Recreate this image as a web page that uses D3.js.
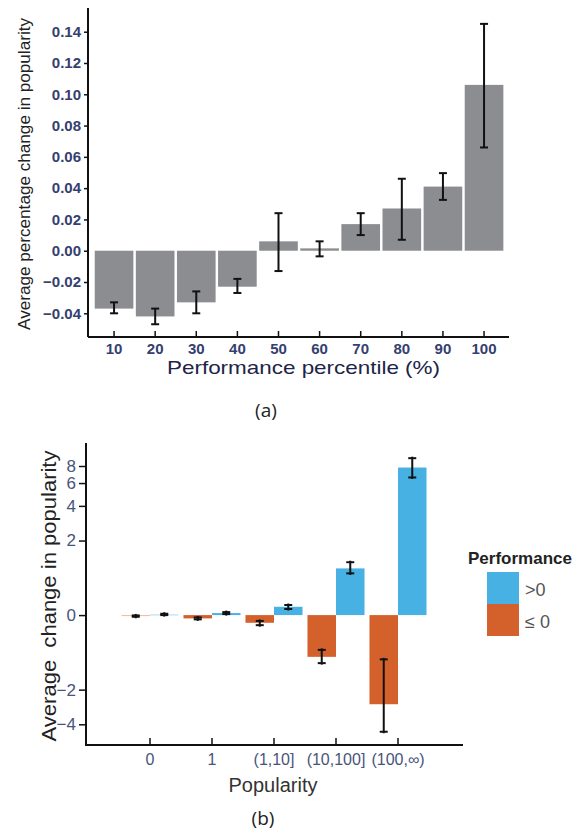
<!DOCTYPE html>
<html>
<head>
<meta charset="utf-8">
<script src="https://cdn.jsdelivr.net/npm/d3@7"></script>
<style>
  body { margin: 0; background: #fff; }
  text { font-family: "Liberation Sans", Arial, sans-serif; }
</style>
</head>
<body>
<div class="canvas"></div>
<script>
// ---------------- data: panel (a) ----------------
const percentiles = ['10', '20', '30', '40', '50', '60', '70', '80', '90', '100'];
const avgChange = [-0.037, -0.042, -0.033, -0.023, 0.006, 0.0015, 0.017, 0.027, 0.041, 0.106];
const errLow  = [-0.040, -0.047, -0.040, -0.027, -0.013, -0.0036, 0.010, 0.007, 0.0325, 0.066];
const errHigh = [-0.033, -0.037, -0.026, -0.018, 0.024, 0.006, 0.024, 0.046, 0.0496, 0.145];
const yTicksA = [-0.04, -0.02, 0.00, 0.02, 0.04, 0.06, 0.08, 0.10, 0.12, 0.14];

// ---------------- data: panel (b) ----------------
const popularity = ['0', '1', '(1,10]', '(10,100]', '(100,\u221e)'];
const perfGroups = ['le', 'gt'];            // ≤0 then >0
const valLe  = [-0.015, -0.05, -0.12, -0.85, -2.72];
const lowLe  = [-0.025, -0.065, -0.16, -1.03, -4.58];
const highLe = [-0.005, -0.035, -0.09, -0.67, -0.92];
const valGt  = [0.01, 0.03, 0.13, 0.99, 7.8];
const lowGt  = [0.0, 0.015, 0.094, 0.85, 6.6];
const highGt = [0.02, 0.045, 0.16, 1.18, 9.1];
const yTicksB = [-4, -2, 0, 2, 4, 6, 8];

const svg = d3.select('.canvas')
    .append('svg')
    .attr('width', 573)
    .attr('height', 837);

const tickColor = '#344070';
const capW = 8;

//////////////////////////// panel (a) ////////////////////////////
const xA = d3.scaleBand()
    .domain(percentiles)
    .range([93.5, 504.6])
    .paddingInner(0.06)
    .paddingOuter(0.03);

const yA = d3.scaleLinear()
    .domain([-0.04, 0.14])
    .range([313.3, 31.7]);

const baseA = 337;
const gA = svg.append('g');

// bars
gA.selectAll('rect.bar')
    .data(percentiles)
    .enter().append('rect')
    .attr('class', 'bar')
    .attr('x', d => xA(d))
    .attr('width', xA.bandwidth())
    .attr('y', (d, i) => Math.min(yA(avgChange[i]), yA(0)))
    .attr('height', (d, i) => Math.abs(yA(avgChange[i]) - yA(0)))
    .attr('fill', '#8c8d90');

// error bars
const errA = gA.selectAll('g.err')
    .data(percentiles)
    .enter().append('g')
    .attr('class', 'err')
    .attr('stroke', '#111')
    .attr('stroke-width', 2);
errA.append('line')
    .attr('x1', d => xA(d) + xA.bandwidth() / 2)
    .attr('x2', d => xA(d) + xA.bandwidth() / 2)
    .attr('y1', (d, i) => yA(errLow[i]))
    .attr('y2', (d, i) => yA(errHigh[i]));
errA.append('line')
    .attr('x1', d => xA(d) + xA.bandwidth() / 2 - capW / 2)
    .attr('x2', d => xA(d) + xA.bandwidth() / 2 + capW / 2)
    .attr('y1', (d, i) => yA(errLow[i]))
    .attr('y2', (d, i) => yA(errLow[i]));
errA.append('line')
    .attr('x1', d => xA(d) + xA.bandwidth() / 2 - capW / 2)
    .attr('x2', d => xA(d) + xA.bandwidth() / 2 + capW / 2)
    .attr('y1', (d, i) => yA(errHigh[i]))
    .attr('y2', (d, i) => yA(errHigh[i]));

// axes
const yAxisA = gA.append('g')
    .attr('transform', 'translate(88,0)')
    .call(d3.axisLeft(yA).tickValues(yTicksA).tickSize(4).tickPadding(3)
        .tickFormat(d => d3.format('.2f')(d).replace('-', '\u2212')));
yAxisA.select('.domain').remove();
yAxisA.append('line').attr('x1', 0).attr('x2', 0).attr('y1', 8).attr('y2', baseA)
    .attr('stroke', '#111').attr('stroke-width', 2);

const xAxisA = gA.append('g')
    .attr('transform', `translate(0,${baseA})`)
    .call(d3.axisBottom(xA).tickSize(-6).tickPadding(6));
xAxisA.select('.domain').remove();
xAxisA.append('line').attr('x1', 88).attr('x2', 509).attr('y1', 0).attr('y2', 0)
    .attr('stroke', '#111').attr('stroke-width', 2);

[yAxisA, xAxisA].forEach(ax => {
    ax.selectAll('.tick line').attr('stroke', '#111').attr('stroke-width', 1.5);
    ax.selectAll('text').attr('fill', tickColor).attr('font-size', 15).attr('font-weight', 'bold');
});

gA.append('text')
    .attr('transform', 'translate(30,174) rotate(-90)')
    .attr('text-anchor', 'middle')
    .attr('font-size', 16.5)
    .attr('fill', '#222')
    .attr('textLength', 312)
    .attr('lengthAdjust', 'spacingAndGlyphs')
    .text('Average percentage change in popularity');

gA.append('text')
    .attr('x', 167).attr('y', 374)
    .attr('font-size', 19)
    .attr('fill', '#1e2448')
    .attr('textLength', 273)
    .attr('lengthAdjust', 'spacingAndGlyphs')
    .text('Performance percentile (%)');

svg.append('text')
    .attr('x', 266).attr('y', 417)
    .attr('text-anchor', 'middle')
    .attr('font-size', 19)
    .attr('fill', '#222')
    .style('font-family', '"Open Sans", sans-serif')
    .text('(a)');

//////////////////////////// panel (b) ////////////////////////////
const xB = d3.scaleBand()
    .domain(popularity)
    .range([119, 429])
    .paddingInner(0.08)
    .paddingOuter(0.04);

const xSub = d3.scaleBand()
    .domain(perfGroups)
    .range([0, xB.bandwidth()]);

const yB = d3.scaleSymlog()
    .constant(1)
    .domain([-4, 8])
    .range([724.3, 466]);

const colors = { le: '#d4602b', gt: '#48b1e3' };
const baseB = 745;
const gB = svg.append('g');

const barsB = [];
popularity.forEach((p, i) => {
    barsB.push({ cat: p, grp: 'le', v: valLe[i], lo: lowLe[i], hi: highLe[i] });
    barsB.push({ cat: p, grp: 'gt', v: valGt[i], lo: lowGt[i], hi: highGt[i] });
});

const cx = d => xB(d.cat) + xSub(d.grp) + xSub.bandwidth() / 2;

gB.selectAll('rect.bar')
    .data(barsB)
    .enter().append('rect')
    .attr('x', d => xB(d.cat) + xSub(d.grp))
    .attr('width', xSub.bandwidth())
    .attr('y', d => Math.min(yB(d.v), yB(0)))
    .attr('height', d => Math.max(1, Math.abs(yB(d.v) - yB(0))))
    .attr('fill', d => colors[d.grp])
    .attr('opacity', (d, i) => i < 2 ? 0.45 : 1);

const errB = gB.selectAll('g.err')
    .data(barsB)
    .enter().append('g')
    .attr('stroke', '#111')
    .attr('stroke-width', 2);
errB.append('line')
    .attr('x1', cx).attr('x2', cx)
    .attr('y1', d => yB(d.lo) + 1.5)
    .attr('y2', d => yB(d.hi) - 1.5);
errB.append('line')
    .attr('x1', d => cx(d) - capW / 2).attr('x2', d => cx(d) + capW / 2)
    .attr('y1', d => yB(d.lo)).attr('y2', d => yB(d.lo));
errB.append('line')
    .attr('x1', d => cx(d) - capW / 2).attr('x2', d => cx(d) + capW / 2)
    .attr('y1', d => yB(d.hi)).attr('y2', d => yB(d.hi));

const yAxisB = gB.append('g')
    .attr('transform', 'translate(86,0)')
    .call(d3.axisLeft(yB).tickValues(yTicksB).tickSize(7).tickPadding(3)
        .tickFormat(d => String(d).replace('-', '\u2212')));
yAxisB.select('.domain').remove();
yAxisB.append('line').attr('x1', 0).attr('x2', 0).attr('y1', 443).attr('y2', baseB)
    .attr('stroke', '#111').attr('stroke-width', 2);

const xAxisB = gB.append('g')
    .attr('transform', `translate(0,${baseB})`)
    .call(d3.axisBottom(xB).tickSize(-7).tickPadding(9));
xAxisB.select('.domain').remove();
xAxisB.append('line').attr('x1', 85).attr('x2', 463).attr('y1', 0).attr('y2', 0)
    .attr('stroke', '#111').attr('stroke-width', 2);

[yAxisB, xAxisB].forEach(ax => {
    ax.selectAll('.tick line').attr('stroke', '#111').attr('stroke-width', 1.5);
    ax.selectAll('text').attr('fill', '#48547a').attr('font-size', 16);
});
yAxisB.selectAll('text').attr('font-size', 17);

gB.append('text')
    .attr('transform', 'translate(56,596) rotate(-90)')
    .attr('text-anchor', 'middle')
    .attr('font-size', 20)
    .attr('fill', '#222')
    .style('white-space', 'pre')
    .attr('textLength', 291)
    .attr('lengthAdjust', 'spacingAndGlyphs')
    .text('Average  change in popularity');

gB.append('text')
    .attr('x', 273).attr('y', 792)
    .attr('text-anchor', 'middle')
    .attr('font-size', 20)
    .attr('fill', '#333')
    .text('Popularity');

svg.append('text')
    .attr('x', 263).attr('y', 825)
    .attr('text-anchor', 'middle')
    .attr('font-size', 19)
    .attr('fill', '#222')
    .style('font-family', '"Open Sans", sans-serif')
    .text('(b)');

// legend
const legend = svg.append('g').attr('transform', 'translate(468,0)');
legend.append('text')
    .attr('x', 0).attr('y', 564)
    .attr('font-size', 17)
    .attr('font-weight', 'bold')
    .attr('fill', '#222')
    .text('Performance');
const legItems = [{ k: 'gt', label: '>0' }, { k: 'le', label: '\u2264 0' }];
legend.selectAll('rect.key')
    .data(legItems)
    .enter().append('rect')
    .attr('x', 19)
    .attr('y', (d, i) => 572 + i * 32)
    .attr('width', 32)
    .attr('height', 32)
    .attr('fill', d => colors[d.k]);
legend.selectAll('text.key')
    .data(legItems)
    .enter().append('text')
    .attr('x', 57)
    .attr('y', (d, i) => 596 + i * 32)
    .attr('font-size', 18)
    .attr('fill', '#555')
    .text(d => d.label);
</script>
</body>
</html>
